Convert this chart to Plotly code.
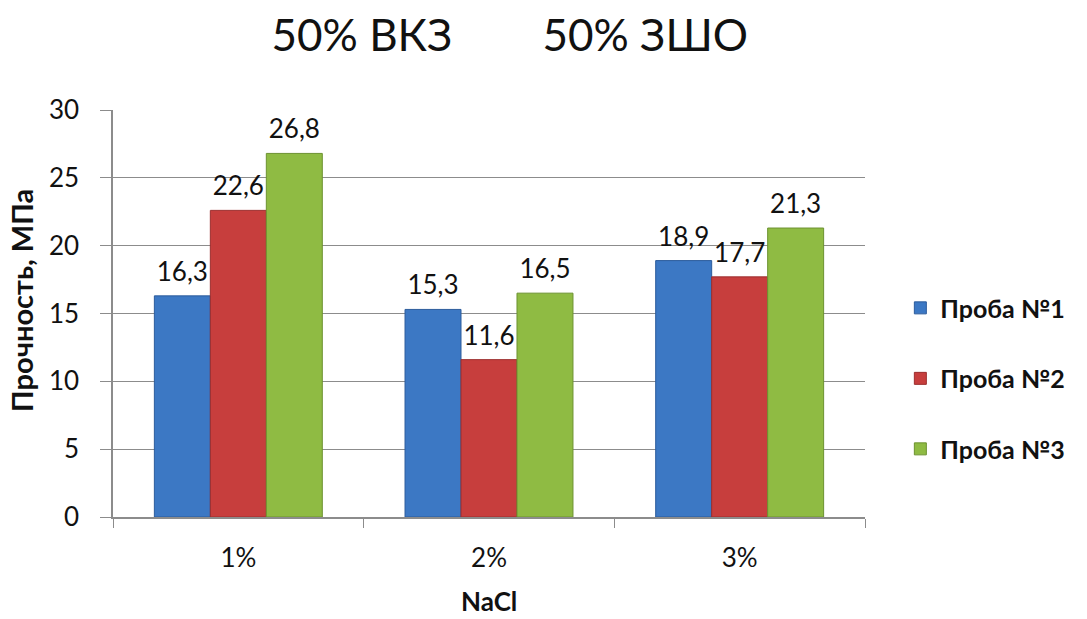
import plotly.graph_objects as go

# Strength of samples vs NaCl concentration
categories = ["1%", "2%", "3%"]
series_names = ["Проба №1", "Проба №2", "Проба №3"]
sample1 = [16.3, 15.3, 18.9]
sample2 = [22.6, 11.6, 17.7]
sample3 = [26.8, 16.5, 21.3]
y_ticks = [0, 5, 10, 15, 20, 25, 30]

colors = ["#3C78C4", "#C73E3D", "#8FBB43"]
edge_colors = ["#2C5C9C", "#9C2E2E", "#6C9230"]

FONT = "Lato"
INK = "#111111"

fig = go.Figure()
for i, (name, vals) in enumerate(zip(series_names, [sample1, sample2, sample3])):
    fig.add_trace(go.Bar(
        x=categories, y=vals, name=name,
        marker=dict(color=colors[i], line=dict(color=edge_colors[i], width=1)),
        offsetgroup=str(i), legendgroup=f"g{i}",
    ))
    # value labels floating above each bar
    fig.add_trace(go.Scatter(
        x=categories, y=vals, mode="markers+text",
        text=[f"{v:.1f}".replace(".", ",") for v in vals],
        textposition="top center",
        textfont=dict(family=FONT, size=26, color=INK),
        marker=dict(size=12, opacity=0),
        offsetgroup=str(i), showlegend=False, hoverinfo="skip",
        cliponaxis=False,
    ))

fig.update_layout(
    width=1087, height=619,
    paper_bgcolor="white", plot_bgcolor="white",
    margin=dict(l=113, r=222, t=110, b=102),
    barmode="group", bargap=0.33, bargroupgap=0,
    scattermode="group", scattergap=0.33,
    separators=", ",
    font=dict(family=FONT, size=20, color=INK),
    title=dict(
        text="50% ВКЗ\u00a0\u00a0\u00a0\u00a0\u00a0\u00a0\u00a0\u00a050% ЗШО",
        x=0.469, xanchor="center", y=0.943, yanchor="middle",
        font=dict(family=FONT, size=44, color=INK),
    ),
    legend=dict(
        x=1.047, xanchor="left", y=0.34, yanchor="middle",
        font=dict(family=FONT, size=25, color=INK, weight="bold"),
        tracegroupgap=35, traceorder="grouped",
        itemwidth=30,
    ),
    showlegend=True,
    annotations=[
        dict(text="<b>Прочность, МПа</b>", xref="paper", yref="paper",
             x=-0.121, y=0.531, xanchor="center", yanchor="middle",
             textangle=-90, showarrow=False,
             font=dict(family=FONT, size=29, color=INK)),
        dict(text="<b>NaCl</b>", xref="paper", yref="paper",
             x=0.5, y=-0.207, xanchor="center", yanchor="middle",
             showarrow=False,
             font=dict(family=FONT, size=26, color=INK)),
    ],
)

fig.update_yaxes(
    range=[0, 30], tickvals=y_ticks,
    showgrid=True, gridcolor="#8C8C8C", gridwidth=1,
    showline=True, linecolor="#8C8C8C", linewidth=1.5,
    ticks="outside", ticklen=11, tickcolor="#8C8C8C",
    tickfont=dict(family=FONT, size=26),
    ticklabelstandoff=16,
    zeroline=False,
)
fig.update_xaxes(
    showline=True, linecolor="#8C8C8C", linewidth=1.5,
    ticks="outside", ticklen=9, tickcolor="#8C8C8C", tickson="boundaries",
    tickfont=dict(family=FONT, size=26),
    ticklabelstandoff=17,
)

fig.write_html("out.html")
